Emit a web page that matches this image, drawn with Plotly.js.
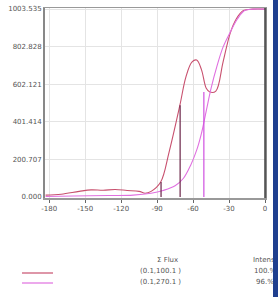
<!DOCTYPE html>
<html>
<head>
<meta charset="utf-8">
<script src="https://cdn.plot.ly/plotly-3.0.1.min.js"></script>
<style>
html,body{margin:0;padding:0;background:#fff;overflow:hidden;}
#chart{width:278px;height:297px;}
#edge{position:absolute;left:273px;top:0;width:5px;height:297px;background:#1f3f8f;}
</style>
</head>
<body>
<div id="chart"></div>
<div id="edge"></div>
<script>
// Data
const xRed = [-183, -170, -155, -145, -135, -125, -115, -105, -100, -95, -87, -80, -71, -66, -61, -57, -53, -49, -46, -41, -35, -29, -24, -18, -10, 0];
const yRed = [10, 15, 30, 38, 36, 40, 35, 30, 20, 30, 80, 240, 490, 640, 720, 731, 680, 580, 560, 565, 720, 875, 950, 995, 1003, 1003];
const xMag = [-183, -160, -130, -110, -95, -85, -75, -68, -62, -57, -53, -49, -45, -40, -35, -29, -23, -17, -10, 0];
const yMag = [3, 5, 8, 10, 20, 35, 60, 100, 170, 250, 340, 460, 580, 700, 800, 880, 950, 995, 1003, 1003];
const dropDarkX = [-86.7, -70.8];
const dropDarkY = [80, 490];
const dropMagX = [-51];
const dropMagY = [560];
const xTicks = [-180, -150, -120, -90, -60, -30, 0];
const xTickText = ['-180', '-150', '-120', '-90', '-60', '-30', '0'];
const yTicks = [0, 200.707, 401.414, 602.121, 802.828, 1003.535];
const yTickText = ['0.000', '200.707', '401.414', '602.121', '802.828', '1003.535'];
const seriesNames = ['(0.1,100.1 )', '(0.1,270.1 )'];
const seriesIntens = ['100.%', '96.%'];
const colRed = '#c8506e';
const colMag = '#e070e0';

function dropTrace(xs, ys, color) {
  const x = [], y = [];
  xs.forEach((v, i) => { x.push(v, v, null); y.push(0, ys[i], null); });
  return {x, y, type: 'scatter', mode: 'lines', line: {color, width: 1.2}, hoverinfo: 'skip', showlegend: false};
}

const traces = [
  {x: xRed, y: yRed, type: 'scatter', mode: 'lines', line: {color: colRed, width: 1.1, shape: 'spline'}, showlegend: false},
  {x: xMag, y: yMag, type: 'scatter', mode: 'lines', line: {color: colMag, width: 1.1, shape: 'spline'}, showlegend: false},
  dropTrace(dropDarkX, dropDarkY, '#6a2448'),
  dropTrace(dropMagX, dropMagY, '#d050e0')
];

const px = v => (v - 45) / 220;
const py = v => (198 - v) / 190;
const f = {family: 'DejaVu Sans', size: 7, color: '#555'};

const annotations = [
  {text: 'Σ Flux', x: px(167), y: py(260), xref: 'paper', yref: 'paper', showarrow: false, font: f, xanchor: 'center', yanchor: 'middle'},
  {text: seriesNames[0], x: px(160), y: py(271), xref: 'paper', yref: 'paper', showarrow: false, font: f, xanchor: 'center', yanchor: 'middle'},
  {text: seriesNames[1], x: px(160), y: py(282), xref: 'paper', yref: 'paper', showarrow: false, font: f, xanchor: 'center', yanchor: 'middle'},
  {text: 'Intens', x: px(251), y: py(260), xref: 'paper', yref: 'paper', showarrow: false, font: f, xanchor: 'left', yanchor: 'middle'},
  {text: seriesIntens[0], x: px(252), y: py(271), xref: 'paper', yref: 'paper', showarrow: false, font: f, xanchor: 'left', yanchor: 'middle'},
  {text: seriesIntens[1], x: px(254), y: py(282), xref: 'paper', yref: 'paper', showarrow: false, font: f, xanchor: 'left', yanchor: 'middle'}
];

const shapes = [
  {type: 'line', xref: 'paper', yref: 'paper', x0: px(22), x1: px(53), y0: py(273), y1: py(273), line: {color: colRed, width: 1.2}},
  {type: 'line', xref: 'paper', yref: 'paper', x0: px(22), x1: px(53), y0: py(283), y1: py(283), line: {color: colMag, width: 1.2}},
  {type: 'line', xref: 'paper', yref: 'paper', x0: 1, x1: 1, y0: 0, y1: 1, line: {color: '#444', width: 1.5}}
];

const layout = {
  width: 278, height: 297,
  margin: {l: 45, r: 13, t: 8, b: 99},
  paper_bgcolor: '#fff', plot_bgcolor: '#fff',
  showlegend: false,
  xaxis: {
    range: [-183.5, 0], tickvals: xTicks, ticktext: xTickText,
    showgrid: true, gridcolor: '#e4e4e4', gridwidth: 1, zeroline: false,
    showline: true, linecolor: '#999', linewidth: 1.5, mirror: true,
    ticks: 'outside', ticklen: 3, tickcolor: '#666', tickfont: f
  },
  yaxis: {
    range: [-5.3, 1008.9], tickvals: yTicks, ticktext: yTickText,
    showgrid: true, gridcolor: '#e4e4e4', gridwidth: 1, zeroline: false,
    showline: true, linecolor: '#888', linewidth: 2, mirror: true,
    ticks: '', tickfont: f
  },
  annotations, shapes
};

Plotly.newPlot('chart', traces, layout, {staticPlot: true, displayModeBar: false});
</script>
</body>
</html>
